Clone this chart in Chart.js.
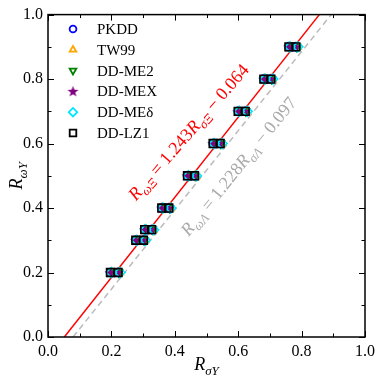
<!DOCTYPE html>
<html><head><meta charset="utf-8">
<script src="https://cdn.jsdelivr.net/npm/chart.js@4.4.1/dist/chart.umd.min.js"></script>
<style>html,body{margin:0;padding:0;background:#fff;}#wrap{width:380px;height:380px;}</style>
</head><body><div id="wrap"><canvas id="c" width="380" height="380"></canvas></div>
<script>
// ---- data ----
const seriesNames = ['PKDD','TW99','DD-ME2','DD-MEX','DD-ME\u03B4','DD-LZ1'];
const yRatio = [0.2, 0.3, 0.333, 0.4, 0.5, 0.6, 0.7, 0.8, 0.9];
// x values (R_sigma) for the Xi (left) and Lambda (right) points
const pkddXi   = [0.197, 0.277, 0.305, 0.359, 0.440, 0.521, 0.600, 0.681, 0.760];
const pkddLam  = [0.221, 0.301, 0.327, 0.381, 0.462, 0.543, 0.622, 0.703, 0.782];
const tw99Xi   = [0.201, 0.281, 0.309, 0.363, 0.444, 0.525, 0.604, 0.685, 0.764];
const tw99Lam  = [0.225, 0.305, 0.331, 0.385, 0.466, 0.547, 0.626, 0.707, 0.786];
const me2Xi    = [0.199, 0.279, 0.307, 0.361, 0.442, 0.523, 0.602, 0.683, 0.762];
const me2Lam   = [0.223, 0.303, 0.329, 0.383, 0.464, 0.545, 0.624, 0.705, 0.784];
const mexXi    = [0.196, 0.276, 0.304, 0.358, 0.439, 0.520, 0.599, 0.680, 0.759];
const mexLam   = [0.220, 0.300, 0.326, 0.380, 0.461, 0.542, 0.621, 0.702, 0.781];
const medXi    = [0.200, 0.280, 0.308, 0.362, 0.443, 0.524, 0.603, 0.684, 0.763];
const medLam   = [0.227, 0.307, 0.333, 0.387, 0.468, 0.549, 0.628, 0.709, 0.788];
const lz1Xi    = [0.197, 0.277, 0.305, 0.359, 0.440, 0.521, 0.600, 0.681, 0.760];
const lz1Lam   = [0.221, 0.301, 0.327, 0.381, 0.462, 0.543, 0.622, 0.703, 0.782];
// linear fits R_omega = a * R_sigma + b
const fitXi  = [1.243, -0.064];
const fitLam = [1.228, -0.097];
const fitYEnds = [0, 1];
const tickLabels = ['0.0','0.2','0.4','0.6','0.8','1.0'];

// ---- styles ----
const SERIF = '"Liberation Serif","DejaVu Serif",serif';
const colors = ['#0000ff','#ffa500','#008000','#800080','#00e5ff','#000000'];

function makeStar(color){
  const c = document.createElement('canvas'); c.width = 13; c.height = 13;
  const g = c.getContext('2d'); g.beginPath();
  for (let i=0;i<10;i++){
    const r = i%2===0 ? 5.8 : 2.4;
    const a = -Math.PI/2 + i*Math.PI/5;
    const px = 6.5 + r*Math.cos(a), py = 6.8 + r*Math.sin(a);
    i===0 ? g.moveTo(px,py) : g.lineTo(px,py);
  }
  g.closePath(); g.fillStyle = color; g.fill(); return c;
}
const starImg = makeStar('#800080');

function pts(xs){ return xs.map((x,i)=>({x:x, y:yRatio[i]})); }
const seriesData = [
  pts(pkddXi).concat(pts(pkddLam)),
  pts(tw99Xi).concat(pts(tw99Lam)),
  pts(me2Xi).concat(pts(me2Lam)),
  pts(mexXi).concat(pts(mexLam)),
  pts(medXi).concat(pts(medLam)),
  pts(lz1Xi).concat(pts(lz1Lam))
];
const styles = [
  {pointStyle:'circle', radius:4, rot:0},
  {pointStyle:'triangle', radius:4.5, rot:0},
  {pointStyle:'triangle', radius:4.5, rot:180},
  {pointStyle:starImg, radius:5, rot:0},
  {pointStyle:'rectRot', radius:5, rot:0},
  {pointStyle:'rect', radius:5.5, rot:0}
];
function fitLine(f){ return fitYEnds.map(y=>({x:(y-f[1])/f[0], y:y})); }

const datasets = [
  {type:'line', data:fitLine(fitLam), borderColor:'#bbbbbb', borderWidth:1.5, borderDash:[6,4], pointRadius:0, fill:false, order:10},
  {type:'line', data:fitLine(fitXi), borderColor:'#ff0000', borderWidth:1.5, pointRadius:0, fill:false, order:9}
];
seriesNames.forEach((n,i)=>{
  datasets.push({type:'scatter', label:n, data:seriesData[i], pointStyle:styles[i].pointStyle,
    pointRadius:styles[i].radius, pointRotation:styles[i].rot, borderColor:colors[i],
    pointBorderColor:colors[i], backgroundColor:'rgba(0,0,0,0)', pointBackgroundColor:'rgba(0,0,0,0)',
    pointBorderWidth:1.6, order:6-i});
});

function drawRich(ctx, parts, x, y, angle, color, size){
  ctx.save(); ctx.translate(x,y); ctx.rotate(angle); ctx.fillStyle = color;
  ctx.textBaseline = 'alphabetic';
  const fontOf = p => (p.it?'italic ':'') + (p.sub? Math.round(size*0.7): size) + 'px ' + SERIF;
  let w = 0; parts.forEach(p=>{ ctx.font = fontOf(p); w += ctx.measureText(p.t).width; });
  let cx = -w/2;
  parts.forEach(p=>{ ctx.font = fontOf(p); ctx.fillText(p.t, cx, p.sub ? size*0.25 : 0); cx += ctx.measureText(p.t).width; });
  ctx.restore();
}

const decor = {
  id:'decor',
  afterDraw(chart){
    const ctx = chart.ctx, a = chart.chartArea, xs = chart.scales.x, ys = chart.scales.y;
    ctx.save();
    ctx.strokeStyle = '#000'; ctx.lineWidth = 1.5;
    ctx.strokeRect(a.left, a.top, a.right-a.left, a.bottom-a.top);
    ctx.lineWidth = 1;
    for (let k=0;k<=10;k++){
      const v = k/10, L = k%2===0 ? 6 : 3.5;
      const px = Math.round(xs.getPixelForValue(v))+0.5, py = Math.round(ys.getPixelForValue(v))+0.5;
      ctx.beginPath();
      ctx.moveTo(px, a.bottom); ctx.lineTo(px, a.bottom-L);
      ctx.moveTo(px, a.top); ctx.lineTo(px, a.top+L);
      ctx.moveTo(a.left, py); ctx.lineTo(a.left+L, py);
      ctx.moveTo(a.right, py); ctx.lineTo(a.right-L, py);
      ctx.stroke();
    }
    ctx.restore();
    // legend
    seriesNames.forEach((n,i)=>{
      const ly = 29 + i*20.8;
      ctx.save();
      ctx.strokeStyle = colors[i]; ctx.fillStyle = 'rgba(0,0,0,0)'; ctx.lineWidth = 1.8;
      Chart.helpers.drawPoint(ctx, {pointStyle:styles[i].pointStyle, radius:styles[i].radius*0.85,
        rotation:styles[i].rot, borderWidth:1.8}, 73, ly);
      ctx.fillStyle = '#000'; ctx.font = '15px '+SERIF; ctx.textBaseline='middle'; ctx.textAlign='left';
      ctx.fillText(n, 97, ly+1);
      ctx.restore();
    });
    // axis titles
    drawRich(ctx, [{t:'R',it:true},{t:'\u03C3Y',it:true,sub:true}], (a.left+a.right)/2, 370, 0, '#000', 18);
    drawRich(ctx, [{t:'R',it:true},{t:'\u03C9Y',it:true,sub:true}], 22, (a.top+a.bottom)/2, -Math.PI/2, '#000', 18);
    // fit annotations
    drawRich(ctx, [{t:'R',it:true},{t:'\u03C9\u039E',it:true,sub:true},{t:' = 1.243'},{t:'R',it:true},{t:'\u03C3\u039E',it:true,sub:true},{t:' \u2212 0.064'}],
      193, 136, -49*Math.PI/180, '#ff0000', 18);
    drawRich(ctx, [{t:'R',it:true},{t:'\u03C9\u039B',it:true,sub:true},{t:' = 1.228'},{t:'R',it:true},{t:'\u03C3\u039B',it:true,sub:true},{t:' \u2212 0.097'}],
      243, 170, -51*Math.PI/180, '#aaaaaa', 18);
  }
};

new Chart(document.getElementById('c'), {
  data:{datasets:datasets},
  options:{
    responsive:false, animation:false, devicePixelRatio:1,
    layout:{padding:{top:10, right:14, left:0, bottom:0}},
    plugins:{legend:{display:false}, tooltip:{enabled:false}},
    scales:{
      x:{type:'linear', min:0, max:1, grid:{display:false, drawTicks:false}, border:{display:false},
        afterFit(s){ s.height = 43; },
        ticks:{stepSize:0.1, autoSkip:false, maxRotation:0, padding:5, color:'#000', font:{family:SERIF, size:16},
          callback:(v)=>{ const k=Math.round(v*10); return k%2===0 ? tickLabels[k/2] : ''; }}},
      y:{type:'linear', min:0, max:1, grid:{display:false, drawTicks:false}, border:{display:false},
        afterFit(s){ s.width = 48; },
        ticks:{stepSize:0.1, autoSkip:false, padding:5, color:'#000', font:{family:SERIF, size:16},
          callback:(v)=>{ const k=Math.round(v*10); return k%2===0 ? tickLabels[k/2] : ''; }}}
    }
  },
  plugins:[decor]
});
</script></body></html>
